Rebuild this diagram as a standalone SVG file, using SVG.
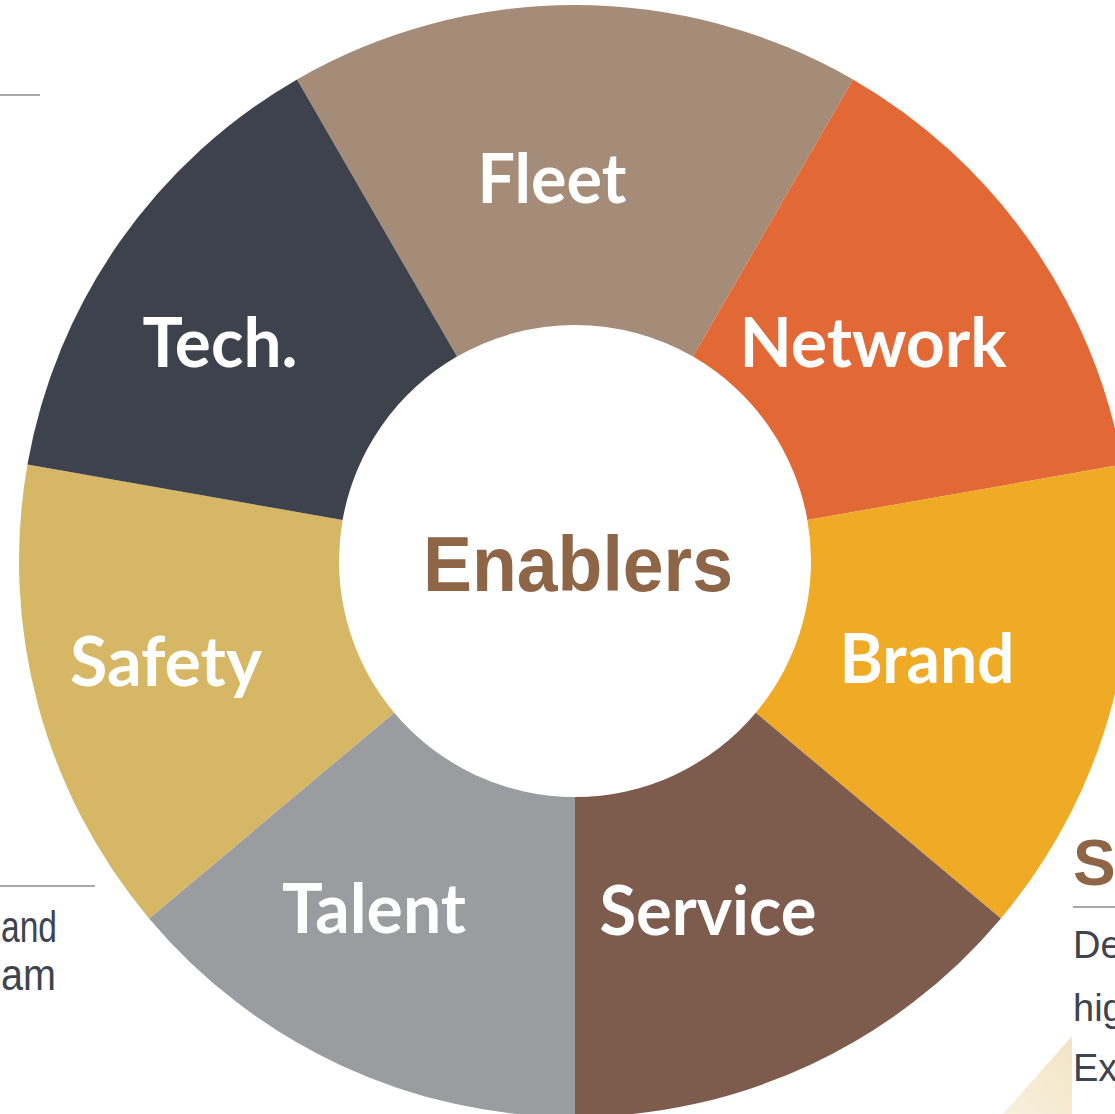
<svg xmlns="http://www.w3.org/2000/svg" width="1115" height="1114" viewBox="0 0 1115 1114">
<style>
.seg{stroke:none}
.lbl{font-family:Lato,"Open Sans","Liberation Sans",sans-serif;font-weight:700;font-size:68px;fill:#ffffff;text-anchor:middle}
.body{font-family:"Liberation Sans",Arial,sans-serif;fill:#3D4450}
.rule{stroke:#8A8C90;stroke-width:1.6;fill:none}
</style>
<defs>
<linearGradient id="beige" x1="1" y1="0" x2="0" y2="1">
<stop offset="0" stop-color="#F2E4C4"/>
<stop offset="1" stop-color="#F8F0DE"/>
</linearGradient>
</defs>
<rect width="1115" height="1114" fill="#ffffff"/>
<g id="decor">
<line class="rule" x1="0" y1="95" x2="40" y2="95" stroke-width="2"/>
<line class="rule" x1="0" y1="886" x2="95" y2="886"/>
<line class="rule" x1="1073" y1="907" x2="1115" y2="907"/>
<polygon points="1003,1114 1072,1036 1072,1114" fill="url(#beige)"/>
<text class="body" x="1" y="942" font-size="44" textLength="56" lengthAdjust="spacingAndGlyphs">and</text>
<text class="body" x="1" y="990" font-size="44" textLength="55" lengthAdjust="spacingAndGlyphs">am</text>
<text x="1073" y="885" font-family="Liberation Sans,Arial,sans-serif" font-weight="700" font-size="64" fill="#8E6547">S</text>
<text class="body" x="1073" y="958" font-size="38">De</text>
<text class="body" x="1073" y="1021" font-size="38">hig</text>
<text class="body" x="1073" y="1081" font-size="38">Ex</text>
</g>
<g id="fleet">
<path class="seg" fill="#A58C78" d="M297,79.5 A556,556 0 0 1 853,79.5 L693,356.62 A236,236 0 0 0 457,356.62 Z"/>
<text class="lbl" x="552" y="203" textLength="149" lengthAdjust="spacingAndGlyphs">Fleet</text>
</g>
<g id="network">
<path class="seg" fill="#E26935" d="M853,79.5 A556,556 0 0 1 1122.55,464.45 L807.41,520.02 A236,236 0 0 0 693,356.62 Z"/>
<text class="lbl" x="873" y="367" textLength="267" lengthAdjust="spacingAndGlyphs">Network</text>
</g>
<g id="brand">
<path class="seg" fill="#EFAB25" d="M1122.55,464.45 A556,556 0 0 1 1000.92,918.39 L755.79,712.7 A236,236 0 0 0 807.41,520.02 Z"/>
<text class="lbl" x="927" y="683" textLength="175" lengthAdjust="spacingAndGlyphs">Brand</text>
</g>
<g id="service">
<path class="seg" fill="#7E5C4D" d="M1000.92,918.39 A556,556 0 0 1 575,1117 L575,797 A236,236 0 0 0 755.79,712.7 Z"/>
<text class="lbl" x="708" y="935" textLength="217" lengthAdjust="spacingAndGlyphs">Service</text>
</g>
<g id="talent">
<path class="seg" fill="#9B9CA0" d="M575,1117 A556,556 0 0 1 149.08,918.39 L394.21,712.7 A236,236 0 0 0 575,797 Z"/>
<text class="lbl" x="374" y="933" textLength="184" lengthAdjust="spacingAndGlyphs">Talent</text>
</g>
<g id="safety">
<path class="seg" fill="#D6B766" d="M149.08,918.39 A556,556 0 0 1 27.45,464.45 L342.59,520.02 A236,236 0 0 0 394.21,712.7 Z"/>
<text class="lbl" x="166" y="686" textLength="192" lengthAdjust="spacingAndGlyphs">Safety</text>
</g>
<g id="tech">
<path class="seg" fill="#3E424C" d="M27.45,464.45 A556,556 0 0 1 297,79.5 L457,356.62 A236,236 0 0 0 342.59,520.02 Z"/>
<text class="lbl" x="220" y="367" textLength="155" lengthAdjust="spacingAndGlyphs">Tech.</text>
</g>
<g id="center">
<text x="578" y="591" font-family="Liberation Sans,Arial,sans-serif" font-weight="700" font-size="78" fill="#8E6547" text-anchor="middle" textLength="310" lengthAdjust="spacingAndGlyphs">Enablers</text>
</g>
<g id="connectors"></g>
</svg>
